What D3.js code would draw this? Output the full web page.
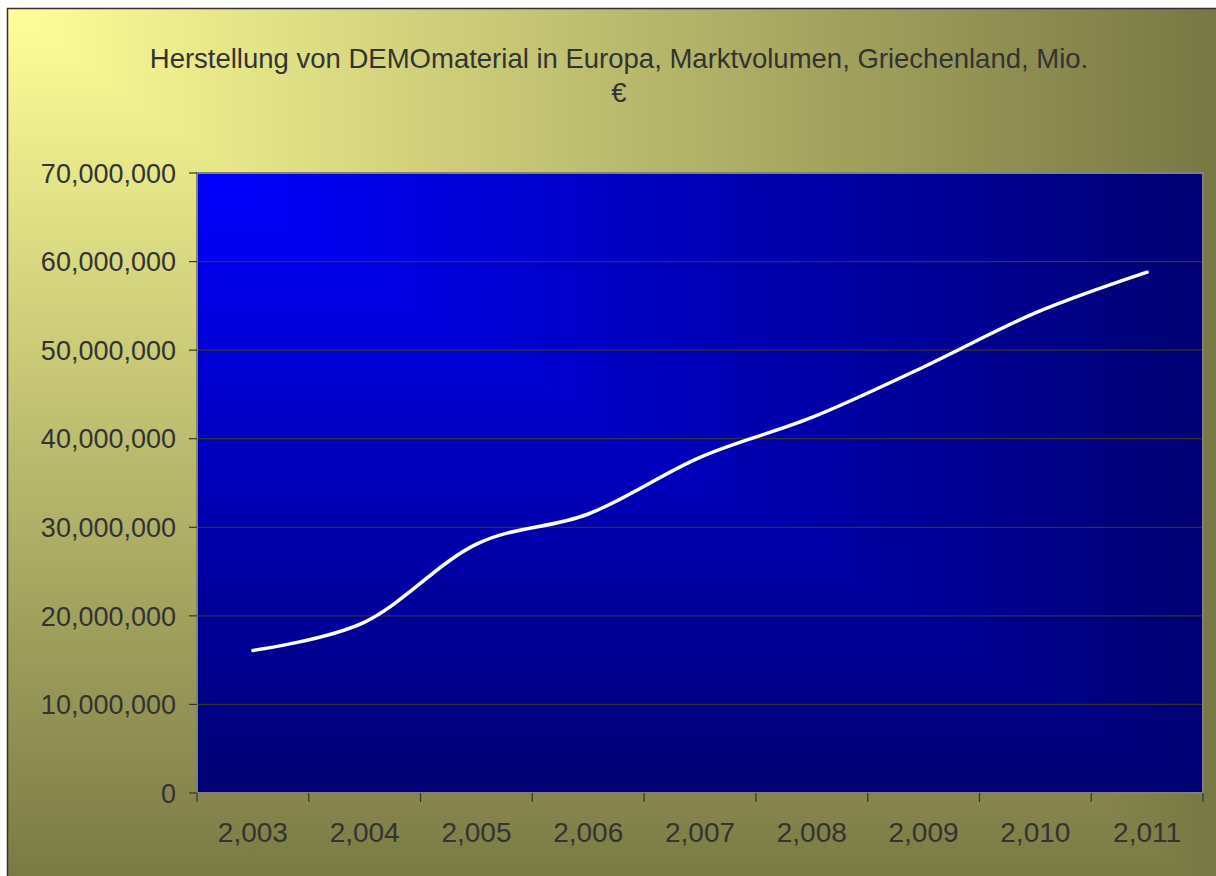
<!DOCTYPE html>
<html>
<head>
<meta charset="utf-8">
<script src="https://cdn.jsdelivr.net/npm/d3@7"></script>
<style>
    body { margin: 0; background: #fff; }
    text { font-family: "Liberation Sans", Arial, sans-serif; fill: #333; }
</style>
</head>
<body>
<div id="chart"></div>
<script>
// data
const years = [2003, 2004, 2005, 2006, 2007, 2008, 2009, 2010, 2011];
const volume = [16100000, 19300000, 28100000, 31500000, 37900000, 42400000, 48100000, 54200000, 58800000];
const yTicks = [0, 10000000, 20000000, 30000000, 40000000, 50000000, 60000000, 70000000];
const titleLines = ["Herstellung von DEMOmaterial in Europa, Marktvolumen, Griechenland, Mio.", "€"];

const width = 1216, height = 876;
const plot = { left: 197, top: 173, right: 1203, bottom: 793 };

const svg = d3.select("#chart").append("svg")
    .attr("width", width).attr("height", height);
const defs = svg.append("defs");

// "from corner" gradient: colour follows max(x/w, y/h)
function cornerGradient(id, x, y, w, h, c0, c1) {
    const gh = defs.append("linearGradient").attr("id", id + "-h")
        .attr("gradientUnits", "userSpaceOnUse")
        .attr("x1", x).attr("y1", 0).attr("x2", x + w).attr("y2", 0);
    const gv = defs.append("linearGradient").attr("id", id + "-v")
        .attr("gradientUnits", "userSpaceOnUse")
        .attr("x1", 0).attr("y1", y).attr("x2", 0).attr("y2", y + h);
    [gh, gv].forEach(g => {
        g.append("stop").attr("offset", 0).attr("stop-color", c0);
        g.append("stop").attr("offset", 1).attr("stop-color", c1);
    });
    const g = svg.append("g");
    g.append("rect").attr("x", x).attr("y", y).attr("width", w).attr("height", h)
        .attr("fill", "url(#" + id + "-h)");
    g.append("path")
        .attr("d", `M${x},${y}L${x + w},${y + h}L${x},${y + h}Z`)
        .attr("fill", "url(#" + id + "-v)");
    return g;
}

// chart background
cornerGradient("bg", 7, 8, 1232, 900, "#ffff99", "#757542");
svg.append("rect").attr("x", 7.5).attr("y", 8.5).attr("width", 1240).attr("height", 900)
    .attr("fill", "none").attr("stroke", "#333").attr("stroke-width", 1.5);

// title
svg.append("text")
    .attr("x", 619).attr("y", 68)
    .attr("text-anchor", "middle")
    .style("font-size", "27.5px")
    .selectAll("tspan")
    .data(titleLines).enter()
    .append("tspan")
    .attr("x", 619)
    .attr("dy", (d, i) => i == 0 ? 0 : 34)
    .text(d => d);

// plot area
const pw = plot.right - plot.left, ph = plot.bottom - plot.top;
cornerGradient("pa", plot.left, plot.top, pw, ph, "#0000ff", "#000072");

const x = d3.scaleBand().domain(years).range([plot.left, plot.right]);
const y = d3.scaleLinear().domain([0, 70000000]).range([plot.bottom, plot.top]);
const fmt = d3.format(",");

// gridlines
svg.append("g").selectAll("line")
    .data(yTicks.slice(1)).enter()
    .append("line")
    .attr("x1", plot.left).attr("x2", plot.right)
    .attr("y1", d => y(d)).attr("y2", d => y(d))
    .attr("stroke", "#333").attr("stroke-width", 1.2);

svg.append("rect")
    .attr("x", plot.left).attr("y", plot.top).attr("width", pw).attr("height", ph)
    .attr("fill", "none").attr("stroke", "#808080").attr("stroke-width", 2);

// y axis
const yAxis = svg.append("g");
yAxis.selectAll("line")
    .data(yTicks).enter()
    .append("line")
    .attr("x1", plot.left - 8).attr("x2", plot.left)
    .attr("y1", d => y(d)).attr("y2", d => y(d))
    .attr("stroke", "#333").attr("stroke-width", 1.2);
yAxis.selectAll("text")
    .data(yTicks).enter()
    .append("text")
    .attr("x", 176).attr("y", d => y(d))
    .attr("dy", "0.36em")
    .attr("text-anchor", "end")
    .style("font-size", "27px")
    .text(d => fmt(d));

// x axis
const xAxis = svg.append("g");
const bounds = years.map(d => x(d)).concat([plot.right]);
xAxis.selectAll("line")
    .data(bounds).enter()
    .append("line")
    .attr("x1", d => d).attr("x2", d => d)
    .attr("y1", plot.bottom).attr("y2", plot.bottom + 9)
    .attr("stroke", "#333").attr("stroke-width", 1.2);
xAxis.selectAll("text")
    .data(years).enter()
    .append("text")
    .attr("x", d => x(d) + x.bandwidth() / 2)
    .attr("y", 842)
    .attr("text-anchor", "middle")
    .style("font-size", "28px")
    .text(d => fmt(d));

// line
const line = d3.line()
    .x((d, i) => x(years[i]) + x.bandwidth() / 2)
    .y(d => y(d))
    .curve(d3.curveCardinal.tension(0));
svg.append("path")
    .datum(volume)
    .attr("d", line)
    .attr("fill", "none")
    .attr("stroke", "#fff")
    .attr("stroke-width", 3.5)
    .attr("stroke-linecap", "round");
</script>
</body>
</html>
